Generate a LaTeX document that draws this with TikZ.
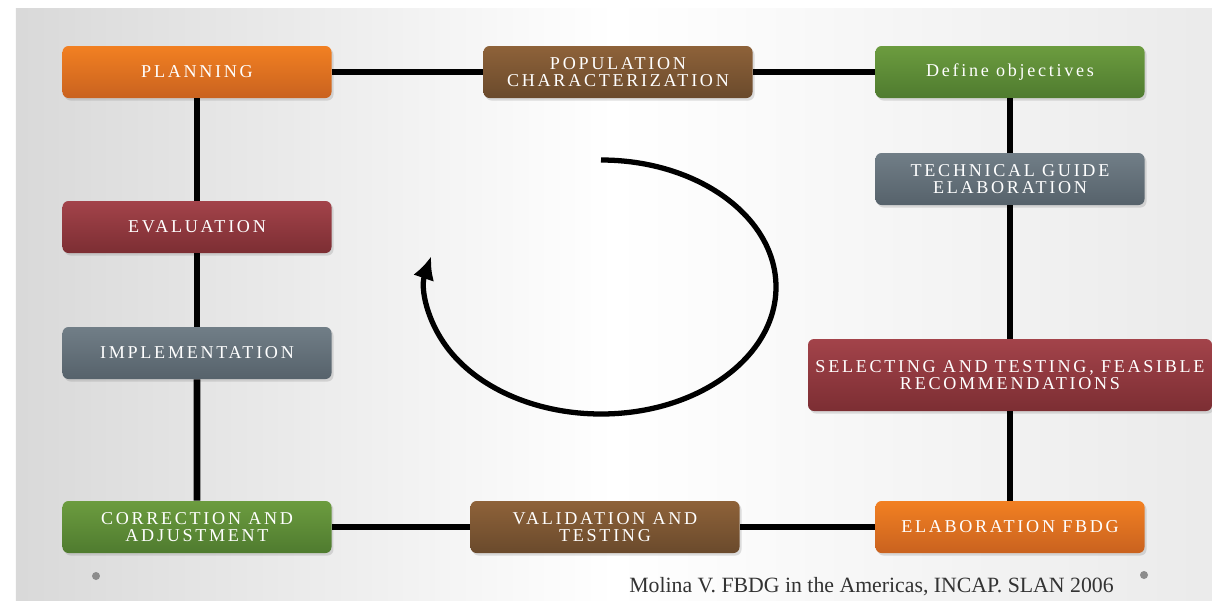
\documentclass[tikz,border=0pt]{standalone}
\usepackage{fontspec}
\setmainfont{Liberation Serif}
\usepackage{tikz}
\usetikzlibrary{shapes, arrows, arrows.meta, shadows}

\definecolor{orangetop}{HTML}{F28022}
\definecolor{orangebot}{HTML}{C9621F}
\definecolor{browntop}{HTML}{8E6239}
\definecolor{brownbot}{HTML}{6A4A2C}
\definecolor{greentop}{HTML}{6C9C3F}
\definecolor{greenbot}{HTML}{4F7B2F}
\definecolor{greytop}{HTML}{717E87}
\definecolor{greybot}{HTML}{56626B}
\definecolor{redtop}{HTML}{A3434A}
\definecolor{redbot}{HTML}{7C2E33}
\newcommand\stepfont{\fontsize{10.3}{9.6}\selectfont\addfontfeature{LetterSpace=15}}

\begin{document}
\begin{tikzpicture}[node distance=8.42cm,
    stepbox/.style={rectangle, rounded corners=0.12cm, minimum width=5.38cm, minimum height=1.04cm,
        align=center, text=white, font=\stepfont,
        drop shadow={opacity=0.25, shadow xshift=0.04cm, shadow yshift=-0.05cm}},
    orangebox/.style={stepbox, top color=orangetop, bottom color=orangebot},
    brownbox/.style={stepbox, top color=browntop, bottom color=brownbot},
    greenbox/.style={stepbox, top color=greentop, bottom color=greenbot},
    greybox/.style={stepbox, top color=greytop, bottom color=greybot},
    redbox/.style={stepbox, top color=redtop, bottom color=redbot},
    link/.style={line width=3.8pt, black},
    looparrow/.style={-{Latex[length=0.46cm,width=0.44cm]}, line width=3pt, black}]

    \useasboundingbox (-3.94,1.44) rectangle (20.3,-10.56);
    \fill[left color=black!15, right color=black!8, middle color=white] (-3.62,1.28) rectangle (20.3,-10.56);

    \node[orangebox]    (Planning)                                              {PLANNING};
    \node[brownbox]     (Population)    [right of=Planning]                     {POPULATION\\CHARACTERIZATION};
    \node[greenbox]     (Objectives)    [node distance=7.84cm, right of=Population] {Define objectives};
    \node[greybox]      (Technical)     [node distance=2.14cm, below of=Objectives] {TECHNICAL GUIDE\\ELABORATION};
    \node[redbox, minimum width=8.08cm, minimum height=1.44cm]
                        (Selecting)     [node distance=3.92cm, below of=Technical]  {SELECTING AND TESTING, FEASIBLE\\RECOMMENDATIONS};
    \node[orangebox]    (Elaboration)   [node distance=3.04cm, below of=Selecting]  {ELABORATION FBDG};
    \node[brownbox]     (Validation)    [node distance=8.1cm, left of=Elaboration]  {VALIDATION AND\\TESTING};
    \node[greenbox]     (Correction)    [node distance=8.16cm, left of=Validation]  {CORRECTION AND\\ADJUSTMENT};
    \node[redbox]       (Evaluation)    [node distance=3.1cm, below of=Planning]    {EVALUATION};
    \node[greybox]      (Implementation) [node distance=2.52cm, below of=Evaluation] {IMPLEMENTATION};

    \path[link]
    (Planning)      edge (Population)
    (Population)    edge (Objectives)
    (Objectives)    edge (Technical)
    (Technical)     edge (Selecting)
    (Selecting)     edge (Elaboration)
    (Elaboration)   edge (Validation)
    (Validation)    edge (Correction)
    (Correction)    edge (Implementation)
    (Implementation) edge (Evaluation)
    (Evaluation)    edge (Planning);

    \coordinate (LoopCentre) at (8.08,-4.3);
    \draw[looparrow] (LoopCentre) ++(0,2.54) arc[start angle=90, end angle=-194, x radius=3.5, y radius=2.54];

    \fill[black!45] (-2.02,-10.08) circle (0.08);
    \fill[black!45] (18.94,-10.06) circle (0.08);
    \node[text=black!80, font=\fontsize{12.4}{14}\selectfont] (Source) at (13.49,-10.3) {Molina V. FBDG in the Americas, INCAP. SLAN 2006};
\end{tikzpicture}
\end{document}
